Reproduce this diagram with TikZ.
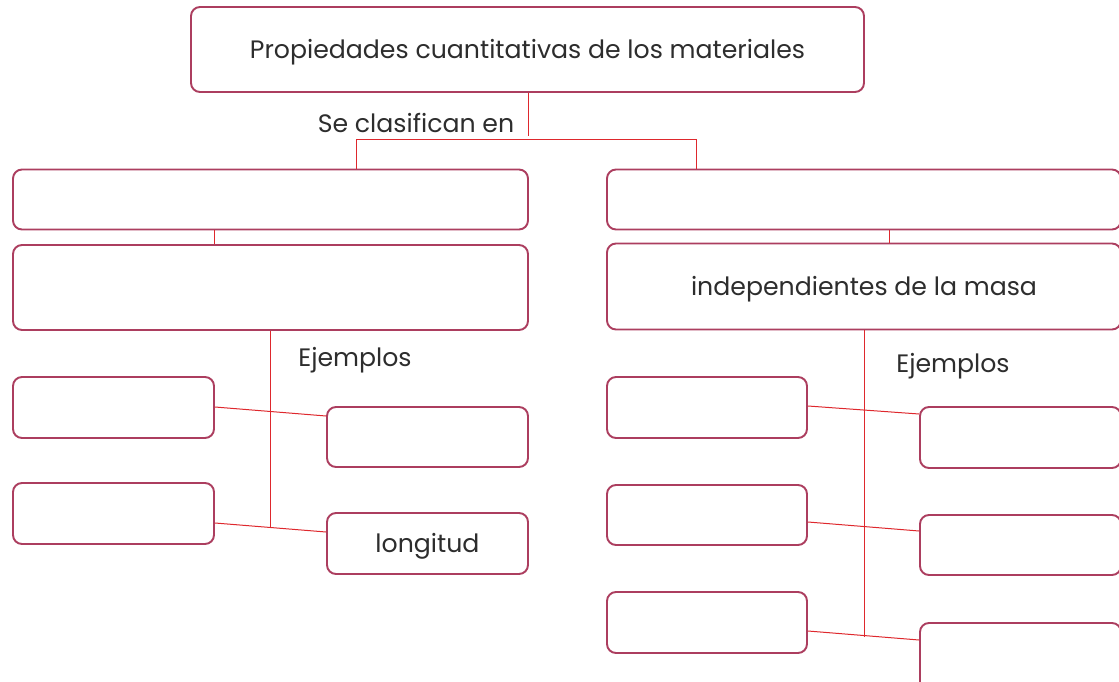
\documentclass[tikz,border=0pt]{standalone}
\usepackage{fontspec}
\setmainfont{Poppins}
\definecolor{boxc}{RGB}{172,62,95}
\definecolor{linec}{RGB}{222,40,45}
\definecolor{txt}{RGB}{45,45,45}
\begin{document}
\begin{tikzpicture}[x=1pt,y=-1pt,
  box/.style={draw=boxc,line width=1.9pt,rounded corners=9pt,rectangle,inner sep=0pt,fill=white},
  conn/.style={draw=linec,line width=1pt},
  lbl/.style={text=txt,font=\fontsize{25.2}{29}\selectfont,inner sep=0pt},
  intext/.style={lbl,text height=20pt,text depth=2pt}]
\useasboundingbox (0,0) rectangle (1119,682);
% main boxes
\node[box,minimum width=673pt,minimum height=85pt,intext] (top) at (527.5,49.5) {Propiedades cuantitativas de los materiales};
\node[box,minimum width=515pt,minimum height=60pt] (L1) at (270.5,199.5) {};
\node[box,minimum width=514pt,minimum height=60pt] (R1) at (864,199.5) {};
\node[box,minimum width=515pt,minimum height=85pt] (L2) at (270.5,287.5) {};
\node[box,minimum width=514pt,minimum height=86pt,intext] (R2) at (864,286.5) {independientes de la masa};
% left examples
\node[box,minimum width=201pt,minimum height=61pt] (LA1) at (113.5,407.5) {};
\node[box,minimum width=201pt,minimum height=61pt] (LA2) at (113.5,513.5) {};
\node[box,minimum width=201pt,minimum height=60pt] (LB1) at (427.5,437) {};
\node[box,minimum width=201pt,minimum height=61pt,intext] (LB2) at (427.5,543.5) {longitud};
% right examples
\node[box,minimum width=200pt,minimum height=61pt] (RA1) at (707,407.5) {};
\node[box,minimum width=200pt,minimum height=60pt] (RA2) at (707,515) {};
\node[box,minimum width=200pt,minimum height=61pt] (RA3) at (707,622.5) {};
\node[box,minimum width=201pt,minimum height=61pt] (RB1) at (1020.5,437.5) {};
\node[box,minimum width=201pt,minimum height=60pt] (RB2) at (1020.5,545) {};
\node[box,minimum width=201pt,minimum height=68pt] (RB3) at (1020.5,657) {};
% labels
\node[lbl,anchor=base] (se) at (416,132) {Se clasifican en};
\node[lbl,anchor=base] (ej1) at (355,366) {Ejemplos};
\node[lbl,anchor=base] (ej2) at (953,372) {Ejemplos};
% coordinates
\coordinate (t1) at (528,136);
\coordinate (hL) at (356,140);
\coordinate (hR) at (696,140);
\coordinate (cL) at (214,0);
\coordinate (cR) at (889,0);
\coordinate (vL) at (270,528);
\coordinate (vR) at (864,637);
% connectors
\draw[conn] (top.south -| t1) -- (t1);
\draw[conn] (L1.north -| hL) -- (hL) -- (hR) -- (R1.north -| hR);
\draw[conn] (L1.south -| cL) -- (L2.north -| cL);
\draw[conn] (R1.south -| cR) -- (R2.north -| cR);
\draw[conn] (L2.south -| vL) -- (vL);
\draw[conn] (R2.south -| vR) -- (vR);
\draw[conn] (LA1.east |- 0,407) -- (LB1.west |- 0,416);
\draw[conn] (LA2.east |- 0,523) -- (LB2.west |- 0,532);
\draw[conn] (RA1.east |- 0,406) -- (RB1.west |- 0,414);
\draw[conn] (RA2.east |- 0,522) -- (RB2.west |- 0,531);
\draw[conn] (RA3.east |- 0,631) -- (RB3.west |- 0,640);
\end{tikzpicture}
\end{document}
